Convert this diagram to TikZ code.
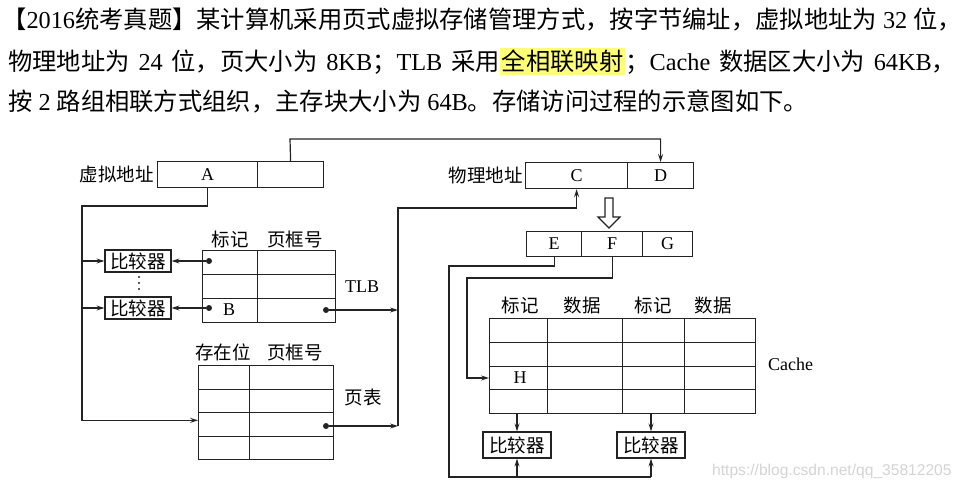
\documentclass[tikz,border=0pt]{standalone}
\usepackage{fontspec}
\setmainfont{Liberation Serif}
\newfontfamily\cjk{Noto Sans CJK SC}
\newfontfamily\wmfont{Liberation Sans}
\usetikzlibrary{arrows.meta}
\definecolor{ink}{RGB}{35,35,35}
\definecolor{hilite}{RGB}{255,255,120}
\definecolor{wmgray}{RGB}{212,212,212}
\newcommand\zh[1]{{\cjk #1}}
\tikzset{
  cell/.style={draw=ink, line width=1.2pt, inner sep=0pt, anchor=north west,
    font=\fontsize{18}{18}\selectfont},
  cmpbox/.style={draw=ink, line width=1.2pt, inner sep=0pt, minimum width=66pt,
    minimum height=22pt, font=\fontsize{18.5}{18.5}\selectfont\cjk},
  lbl/.style={inner sep=0pt, font=\fontsize{18.5}{18.5}\selectfont\cjk},
  latin/.style={inner sep=0pt, font=\fontsize{18}{18}\selectfont},
  wire/.style={draw=ink, line width=1.2pt},
  arr/.style={wire, -{Stealth[length=8pt,width=5pt,inset=3pt]}},
  pin/.style={circle, fill=ink, inner sep=0pt, minimum size=6pt},
  dotmark/.style={circle, fill=ink, inner sep=0pt, minimum size=2.2pt},
  title/.style={inner sep=0pt, anchor=base west, font=\fontsize{24.3}{30}\selectfont}
}
\begin{document}
\begin{tikzpicture}[x=1pt, y=-1pt]
\useasboundingbox (0,0) rectangle (965,489);

% question text
\node[title] (q1) at (2,29) {\zh{【}2016\zh{统考真题】某计算机采用页式虚拟存储管理方式，按字节编址，虚拟地址为} 32 \zh{位，}};
\node[title] (q2) at (8,71) {\makebox[948pt][s]{\zh{物理地址为} 24 \zh{位，页大小为} 8KB\zh{；}TLB \zh{采用}{\setlength\fboxsep{2pt}\colorbox{hilite}{\zh{全相联映射}}}\zh{；}Cache \zh{数据区大小为} 64KB\zh{，}}};
\node[title] (q3) at (8,111) {\zh{按} 2 \zh{路组相联方式组织，主存块大小为} 64B\zh{。存储访问过程的示意图如下。}};

% virtual address
\node[lbl, anchor=east] (valbl) at (154,174) {虚拟地址};
\node[cell, minimum width=100pt, minimum height=26pt] (va1) at (157,161) {A};
\node[cell, minimum width=66pt, minimum height=26pt] (va2) at (257,161) {};

% physical address
\node[lbl, anchor=east] (palbl) at (523,175) {物理地址};
\node[cell, minimum width=102pt, minimum height=26pt] (pa1) at (525,162) {C};
\node[cell, minimum width=66pt, minimum height=26pt] (pa2) at (627,162) {D};

% E F G
\node[cell, minimum width=55pt, minimum height=25pt] (ce) at (526,231) {E};
\node[cell, minimum width=61pt, minimum height=25pt] (cf) at (581,231) {F};
\node[cell, minimum width=50pt, minimum height=25pt] (cg) at (642,231) {G};

% TLB
\node[lbl] (tlbh1) at (230,239) {标记};
\node[lbl] (tlbh2) at (295,239) {页框号};
\foreach \r in {1,2,3} {
  \node[cell, minimum width=55pt, minimum height=24pt] (tt\r) at (202,{226+24*\r}) {};
  \node[cell, minimum width=78pt, minimum height=24pt] (tf\r) at (257,{226+24*\r}) {};
}
\node[latin] (bl) at (229,310) {B};
\node[latin] (tlbl) at (362,287) {TLB};

\node[cmpbox] (cmp1) at (138,261) {比较器};
\node[cmpbox] (cmp2) at (138,308) {比较器};
\foreach \k in {1,2,3}
  \node[dotmark] (vd\k) at (139,{271+6*\k}) {};

\node[pin] (dt1) at (209,261) {};
\node[pin] (dt2) at (209,308) {};
\node[pin] (dtf) at (326,310) {};

% page table
\node[lbl] (pth1) at (223,352) {存在位};
\node[lbl] (pth2) at (295,352) {页框号};
\foreach \r in {1,...,4} {
  \node[cell, minimum width=51pt, minimum height=23.5pt] (pv\r) at (198,{341.5+23.5*\r}) {};
  \node[cell, minimum width=84pt, minimum height=23.5pt] (pf\r) at (249,{341.5+23.5*\r}) {};
}
\node[lbl] (ptl) at (363,397) {页表};
\node[pin] (dpf) at (326,426) {};

% cache
\node[lbl] (ch1) at (520,305) {标记};
\node[lbl] (ch2) at (582,305) {数据};
\node[lbl] (ch3) at (653,305) {标记};
\node[lbl] (ch4) at (713,305) {数据};
\foreach \r in {1,...,4} {
  \node[cell, minimum width=58pt, minimum height=23.75pt] (ct\r) at (489,{294.25+23.75*\r}) {};
  \node[cell, minimum width=75pt, minimum height=23.75pt] (cd\r) at (547,{294.25+23.75*\r}) {};
  \node[cell, minimum width=62pt, minimum height=23.75pt] (cu\r) at (622,{294.25+23.75*\r}) {};
  \node[cell, minimum width=71pt, minimum height=23.75pt] (cv\r) at (684,{294.25+23.75*\r}) {};
}
\node[latin] (hl) at (520,378) {H};
\node[latin, anchor=west] (cachel) at (768,364) {Cache};

\node[cmpbox, minimum width=68pt, minimum height=26pt] (cc1) at (517,445) {比较器};
\node[cmpbox, minimum width=68pt, minimum height=26pt] (cc2) at (651,445) {比较器};

% bends
\coordinate (top) at (290,139);
\coordinate (lbus) at (82,206);
\coordinate (rbus) at (398,208);
\coordinate (ebus) at (449,266);
\coordinate (fbus) at (467,278);
\coordinate (bbot) at (449,477);

% connectors
\draw[arr] (va2.north) -- (top) -| (pa2.north);
\draw[arr] (va1.south) |- (lbus) |- ([yshift=4pt]pv3.west);
\draw[arr] (cmp1.west -| lbus) -- (cmp1.west);
\draw[arr] (cmp2.west -| lbus) -- (cmp2.west);
\draw[arr] (dt1) -- (cmp1.east);
\draw[arr] (dt2) -- (cmp2.east);
\draw[arr] (dtf) -- (dtf -| rbus);
\draw[arr] (dpf) -- (dpf -| rbus);
\draw[arr] (dpf -| rbus) -- (rbus) -| (pa1.south);

% hollow arrow
\draw[wire, fill=white, shift={(609,198)}] (-4,0) -- (4,0) -- (4,19) -- (11,19)
  -- (0,30) -- (-11,19) -- (-4,19) -- cycle;

\draw[wire] (ce.south) |- (ebus) -- (bbot) -- (bbot -| cc2);
\draw[arr] (bbot -| cc1) -- (cc1.south);
\draw[arr] (bbot -| cc2) -- (cc2.south);
\draw[arr] (cf.south) |- (fbus) |- (ct3.west);
\draw[arr] (cc1 |- ct4.south) -- (cc1.north);
\draw[arr] (cc2 |- cu4.south) -- (cc2.north);

\node[anchor=west, inner sep=0pt, text=wmgray, font=\wmfont\fontsize{15.6}{16}\selectfont] (wmark) at (712,471) {https://blog.csdn.net/qq\_35812205};
\end{tikzpicture}
\end{document}
